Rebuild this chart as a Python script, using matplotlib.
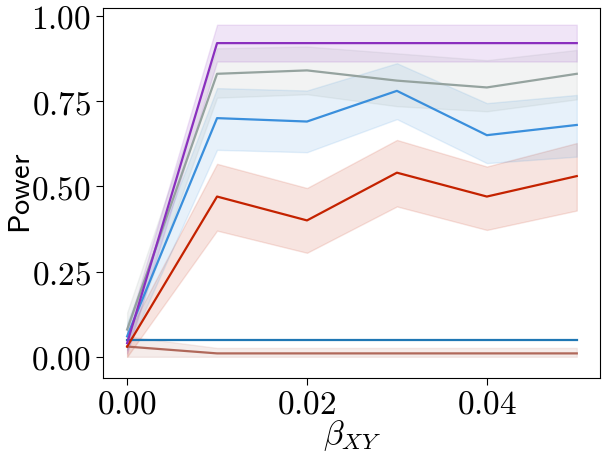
import matplotlib
matplotlib.use("Agg")
import matplotlib.pyplot as plt
from matplotlib.ticker import FuncFormatter

plt.rcParams['mathtext.fontset'] = 'cm'

x = [0.0, 0.01, 0.02, 0.03, 0.04, 0.05]

brown = [0.03, 0.01, 0.01, 0.01, 0.01, 0.01]
brown_lo = [0.0, 0.0, 0.0, 0.0, 0.0, 0.0]
brown_hi = [0.06, 0.026, 0.026, 0.026, 0.026, 0.026]

darkblue = [0.05, 0.05, 0.05, 0.05, 0.05, 0.05]

red = [0.03, 0.47, 0.40, 0.54, 0.47, 0.53]
red_lo = [0.0, 0.37, 0.305, 0.441, 0.372, 0.429]
red_hi = [0.065, 0.566, 0.495, 0.636, 0.558, 0.627]

blue = [0.06, 0.70, 0.69, 0.78, 0.65, 0.68]
blue_lo = [0.02, 0.607, 0.60, 0.697, 0.568, 0.587]
blue_hi = [0.10, 0.788, 0.781, 0.861, 0.744, 0.768]

gray = [0.08, 0.83, 0.84, 0.81, 0.79, 0.83]
gray_lo = [0.03, 0.76, 0.77, 0.735, 0.72, 0.755]
gray_hi = [0.13, 0.905, 0.91, 0.89, 0.87, 0.90]

purple = [0.04, 0.92, 0.92, 0.92, 0.92, 0.92]
purple_lo = [0.01, 0.866, 0.866, 0.866, 0.866, 0.866]
purple_hi = [0.08, 0.974, 0.974, 0.974, 0.974, 0.974]

xticks = [0.0, 0.02, 0.04]
yticks = [0.0, 0.25, 0.5, 0.75, 1.0]

fig = plt.figure(figsize=(6.05, 4.57), dpi=100)
ax = fig.add_axes([0.170, 0.173, 0.822, 0.8095])

series = [
    (brown, brown_lo, brown_hi, '#b0685a'),
    (darkblue, None, None, '#1f77b4'),
    (red, red_lo, red_hi, '#c42200'),
    (blue, blue_lo, blue_hi, '#3a8fdc'),
    (gray, gray_lo, gray_hi, '#95a39f'),
    (purple, purple_lo, purple_hi, '#8a2fbe'),
]
for y, lo, hi, c in series:
    if lo is not None:
        ax.fill_between(x, lo, hi, color=c, alpha=0.12, linewidth=1.0)
    ax.plot(x, y, color=c, linewidth=1.6)

ax.set_xlim(-0.0027, 0.0526)
ax.set_ylim(-0.062, 1.023)
ax.set_xticks(xticks)
ax.set_yticks(yticks)
ax.xaxis.set_major_formatter(FuncFormatter(lambda v, p: r'$%.2f$' % v))
ax.yaxis.set_major_formatter(FuncFormatter(lambda v, p: r'$%.2f$' % v))
ax.tick_params(labelsize=24, length=5)
ax.tick_params(axis='x', pad=2)
ax.set_xlabel(r'$\beta_{XY}$', fontsize=24, va='center')
ax.set_ylabel(r'$\mathsf{Power}$', fontsize=22, va='center')
ax.xaxis.set_label_coords(0.5, -0.155)
ax.yaxis.set_label_coords(-0.163, 0.5)

fig.savefig('out.png', dpi=100)
